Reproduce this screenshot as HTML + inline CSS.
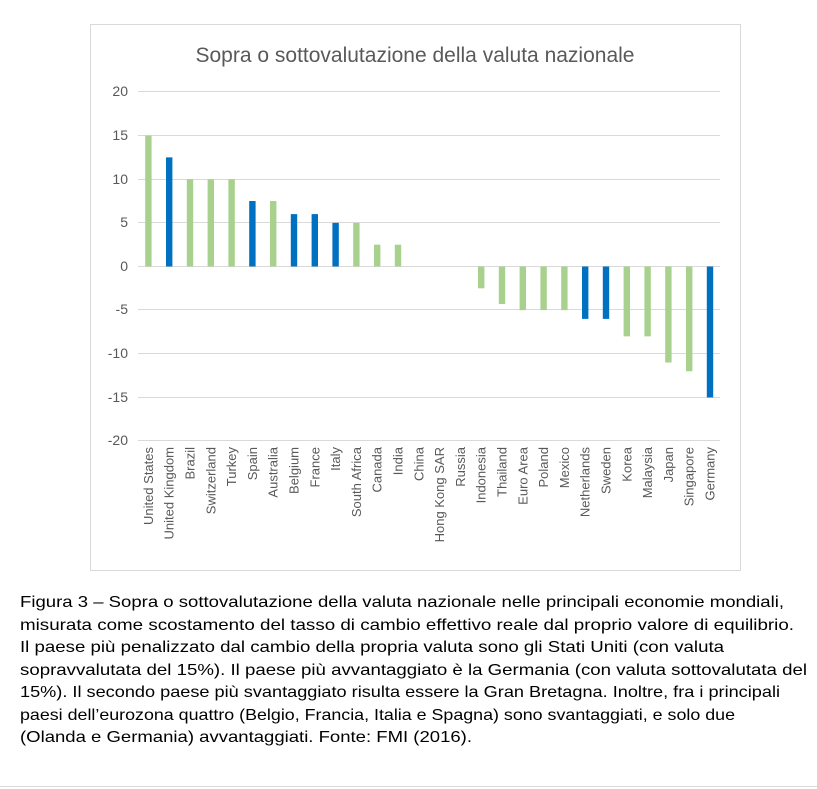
<!DOCTYPE html>
<html><head><meta charset="utf-8"><style>body{margin:0;background:#fff}svg{display:block}</style></head>
<body>
<svg width="817" height="789" xmlns="http://www.w3.org/2000/svg" font-family="'Liberation Sans', sans-serif">
<rect x="0" y="0" width="817" height="789" fill="#fff"/>
<rect x="90.5" y="24.5" width="650" height="546" fill="#fff" stroke="#d9d9d9"/>
<text x="415" y="62" text-anchor="middle" font-size="21" fill="#595959">Sopra o sottovalutazione della valuta nazionale</text>
<g stroke="#d9d9d9" stroke-width="1">
<line x1="138" x2="720" y1="91.5" y2="91.5"/><line x1="138" x2="720" y1="135.5" y2="135.5"/>
<line x1="138" x2="720" y1="179.5" y2="179.5"/><line x1="138" x2="720" y1="222.5" y2="222.5"/>
<line x1="138" x2="720" y1="266.5" y2="266.5"/><line x1="138" x2="720" y1="309.5" y2="309.5"/>
<line x1="138" x2="720" y1="353.5" y2="353.5"/><line x1="138" x2="720" y1="397.5" y2="397.5"/>
<line x1="138" x2="720" y1="440.5" y2="440.5"/>
</g>
<g font-size="14" fill="#595959" text-anchor="end">
<text x="128" y="96">20</text><text x="128" y="140">15</text><text x="128" y="184">10</text>
<text x="128" y="227">5</text><text x="128" y="271">0</text><text x="128" y="314">-5</text>
<text x="128" y="358">-10</text><text x="128" y="402">-15</text><text x="128" y="445">-20</text>
</g>
<g id="bars"></g>
<g id="labels" font-size="13" fill="#595959"></g>
<line x1="0" x2="817" y1="786.5" y2="786.5" stroke="#d9d9d9"/>
<g font-size="16" fill="#000">
<text x="20" y="607" textLength="764" lengthAdjust="spacingAndGlyphs">Figura 3 – Sopra o sottovalutazione della valuta nazionale nelle principali economie mondiali,</text>
<text x="20" y="630" textLength="774" lengthAdjust="spacingAndGlyphs">misurata come scostamento del tasso di cambio effettivo reale dal proprio valore di equilibrio.</text>
<text x="20" y="652" textLength="704" lengthAdjust="spacingAndGlyphs">Il paese più penalizzato dal cambio della propria valuta sono gli Stati Uniti (con valuta</text>
<text x="20" y="675" textLength="787" lengthAdjust="spacingAndGlyphs">sopravvalutata del 15%). Il paese più avvantaggiato è la Germania (con valuta sottovalutata del</text>
<text x="20" y="697" textLength="760" lengthAdjust="spacingAndGlyphs">15%). Il secondo paese più svantaggiato risulta essere la Gran Bretagna. Inoltre, fra i principali</text>
<text x="20" y="720" textLength="715" lengthAdjust="spacingAndGlyphs">paesi dell’eurozona quattro (Belgio, Francia, Italia e Spagna) sono svantaggiati, e solo due</text>
<text x="20" y="742" textLength="452" lengthAdjust="spacingAndGlyphs">(Olanda e Germania) avvantaggiati. Fonte: FMI (2016).</text>
</g>
</svg>
<script>
var d=[["United States",15,0],["United Kingdom",12.5,1],["Brazil",10,0],["Switzerland",10,0],["Turkey",10,0],["Spain",7.5,1],["Australia",7.5,0],["Belgium",6,1],["France",6,1],["Italy",5,1],["South Africa",5,0],["Canada",2.5,0],["India",2.5,0],["China",0,0],["Hong Kong SAR",0,0],["Russia",0,0],["Indonesia",-2.5,0],["Thailand",-4.3,0],["Euro Area",-5,0],["Poland",-5,0],["Mexico",-5,0],["Netherlands",-6,1],["Sweden",-6,1],["Korea",-8,0],["Malaysia",-8,0],["Japan",-11,0],["Singapore",-12,0],["Germany",-15,1]];
var ns="http://www.w3.org/2000/svg",b=document.getElementById("bars"),l=document.getElementById("labels");
var z=266.5,u=8.73;
d.forEach(function(e,i){var cx=138+(i+0.5)*20.8;
if(e[1]!==0){var r=document.createElementNS(ns,"rect");var h=Math.abs(e[1])*u;
r.setAttribute("x",cx-3.2);r.setAttribute("width",6.4);r.setAttribute("y",e[1]>0?z-h:z);r.setAttribute("height",h);
r.setAttribute("fill",e[2]?"#0070C0":"#A9D18E");b.appendChild(r);}
var t=document.createElementNS(ns,"text");t.setAttribute("transform","translate("+(cx+4.5)+",447) rotate(-90)");
t.setAttribute("text-anchor","end");t.textContent=e[0];l.appendChild(t);});
</script>
</body></html>
